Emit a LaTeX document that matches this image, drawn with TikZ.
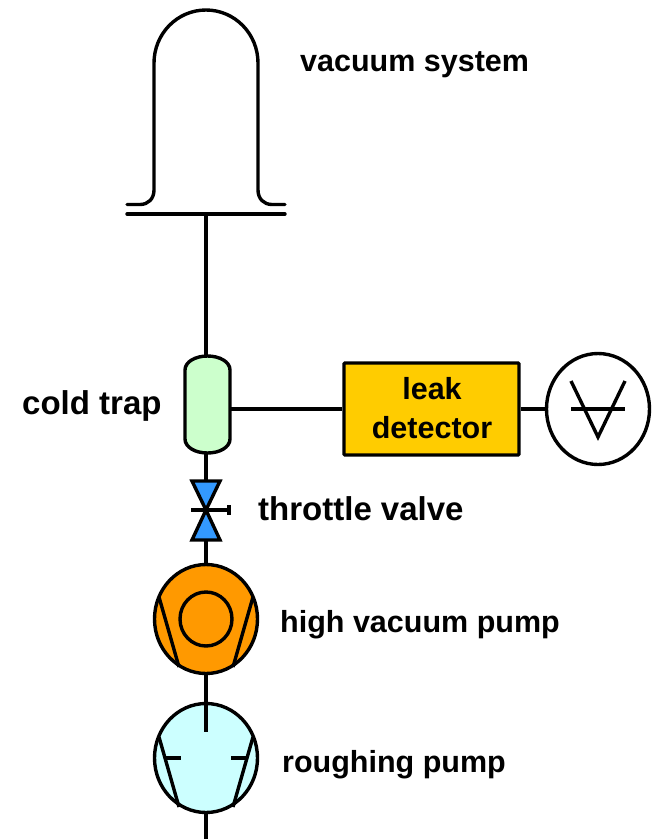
\documentclass[tikz,border=0pt]{standalone}
\usepackage{xcolor}
\definecolor{trapgreen}{HTML}{CCFFCC}
\definecolor{valveblue}{HTML}{3399FF}
\definecolor{hvorange}{HTML}{FF9900}
\definecolor{roughcyan}{HTML}{CCFFFF}
\definecolor{detyellow}{HTML}{FFCC00}
\usepackage{fontspec}
\setmainfont{Liberation Sans}
\usepackage{tikz}
\usetikzlibrary{positioning,shapes.geometric}

\begin{document}
\begin{tikzpicture}[x=1pt, y=-1pt,
    line/.style={draw=black, line width=3.4pt},
    label/.style={font=\fontsize{30.5}{39}\selectfont\bfseries, inner sep=0pt, anchor=base west},
    biglabel/.style={label, font=\fontsize{33}{39}\selectfont\bfseries},
    pump/.style={ellipse, draw=black, line width=3.4pt, inner sep=0pt,
                 minimum width=103pt, minimum height=109pt}]
  \useasboundingbox (0,0) rectangle (656,839);
  % vacuum system bell on its base plate
  \draw[line, line cap=round] (127,204.5) -- (140,204.5)
    .. controls (148,204.5) and (154,199) .. (154,190) -- (154,63)
    .. controls (154,34) and (177,10) .. (206,10)
    .. controls (235,10) and (258,34) .. (258,63) -- (258,190)
    .. controls (258,199) and (264,204.5) .. (272,204.5) -- (285,204.5);
  \draw[line, line cap=round] (127,214) -- (285,214);
  \coordinate (plate) at (206,214);
  \node[label] (vaclabel) at (300,71) {vacuum system};

  % cold trap
  \draw[line, fill=trapgreen] (185,370) .. controls (185,362) and (195,356) .. (207.5,356)
    .. controls (220,356) and (230,362) .. (230,370) -- (230,439)
    .. controls (230,447) and (220,453) .. (207.5,453)
    .. controls (195,453) and (185,447) .. (185,439) -- cycle;
  \coordinate (traptop) at (206,356);
  \coordinate (trapbot) at (206,453);
  \coordinate (trapout) at (230,409);
  \node[biglabel] (traplabel) at (22,414) {cold trap};

  % leak detector and its display
  \node[draw=black, fill=detyellow, line width=3.4pt, rounded corners=1pt, inner sep=0pt,
        minimum width=175pt, minimum height=92pt] (detector) at (431.5,409) {};
  \node[label, anchor=base] (leaklabel) at (432,399) {leak};
  \node[label, anchor=base] (detlabel) at (432,438) {detector};
  \node[ellipse, draw=black, line width=3.4pt, inner sep=0pt,
        minimum width=103pt, minimum height=111pt] (display) at (598,409) {};
  \draw[line] (571,381) -- (598,437) -- (625,381);
  \draw[line] (571,409) -- (625,409);

  % throttle valve
  \draw[line, fill=valveblue] (192,481) -- (220,481) -- (206,510) -- cycle;
  \draw[line, fill=valveblue] (192,540) -- (220,540) -- (206,510) -- cycle;
  \draw[line] (191,510) -- (229,510);
  \draw[line] (229,505) -- (229,515);
  \coordinate (valvetop) at (206,481);
  \coordinate (valvebot) at (206,540);
  \node[biglabel] (valvelabel) at (258,520) {throttle valve};

  % high vacuum pump
  \node[pump, fill=hvorange] (hvpump) at (206,619) {};
  \node[ellipse, draw=black, line width=3.4pt, inner sep=0pt,
        minimum width=52pt, minimum height=54pt] (rotor) at (206,619) {};
  \draw[line] (159,597) -- (179,667);
  \draw[line] (253,597) -- (233,667);
  \node[label] (hvlabel) at (280,632.5) {high vacuum pump};

  % roughing pump
  \node[pump, fill=roughcyan] (roughpump) at (206,758) {};
  \draw[line] (159,737) -- (179,807);
  \draw[line] (253,737) -- (233,807);
  \draw[line] (165,758) -- (181,758);
  \draw[line] (231,758) -- (247,758);
  \coordinate (roughstem) at (206,732);
  \coordinate (outlet) at (206,839);
  \node[label] (roughlabel) at (282,772) {roughing pump};

  % connecting lines
  \draw[line] (plate) -- (traptop);
  \draw[line] (trapout) -- (detector.west);
  \draw[line] (detector.east) -- (display.west);
  \draw[line] (trapbot) -- (valvetop);
  \draw[line] (valvebot) -- (hvpump.north);
  \draw[line] (hvpump.south) -- (roughstem);
  \draw[line] (roughpump.south) -- (outlet);
\end{tikzpicture}
\end{document}
